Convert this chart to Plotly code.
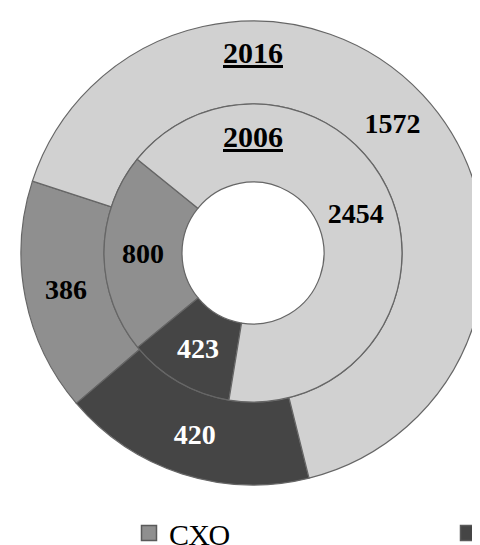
import plotly.graph_objects as go

categories = ["СХО", "К(Ф)Х", "ЛПХ"]
values_2016 = [386, 420, 1572]
values_2006 = [800, 423, 2454]
year_outer = "2016"
year_inner = "2006"

colors = ["#8f8f8f", "#454545", "#d1d1d1"]
text_colors = ["#000000", "#ffffff", "#000000"]

SERIF = "Liberation Serif, Times New Roman, DejaVu Serif, serif"
W, H = 480, 545
cx, cy = 245, 245
r_out, r_mid, r_in = 232, 149, 71


def dom(r):
    return dict(x=[(cx - r) / W, (cx + r) / W],
                y=[(H - cy - r) / H, (H - cy + r) / H])


fig = go.Figure()
fig.add_trace(go.Pie(
    labels=categories, values=values_2016, name=year_outer,
    hole=r_mid / r_out, domain=dom(r_out), sort=False,
    direction="counterclockwise", rotation=229.6,
    marker=dict(colors=colors, line=dict(color="#666666", width=1.2)),
    textinfo="value", textposition="inside", insidetextorientation="horizontal",
    textfont=dict(family=SERIF, size=28, color=text_colors, weight="bold"),
    hoverinfo="label+value", showlegend=False,
))
fig.add_trace(go.Pie(
    labels=categories, values=values_2006, name=year_inner,
    hole=r_in / r_mid, domain=dom(r_mid), sort=False,
    direction="counterclockwise", rotation=230.7,
    marker=dict(colors=colors, line=dict(color="#666666", width=1.2)),
    textinfo="value", textposition="inside", insidetextorientation="horizontal",
    textfont=dict(family=SERIF, size=28, color=text_colors, weight="bold"),
    hoverinfo="label+value", showlegend=False,
))

# legend entries (legend of the original is cropped: first item left, second at right edge)
legend_ids = ["legend", "legend2", "legend2"]
for name, col, lg in zip(categories, colors, legend_ids):
    fig.add_trace(go.Scatter(
        x=[None], y=[None], mode="markers", name=name, legend=lg,
        marker=dict(symbol="square", size=15, color=col, line=dict(color="#5a5a5a", width=1.5)),
        hoverinfo="skip",
    ))

for yr, ypix in ((year_outer, 45), (year_inner, 128)):
    fig.add_annotation(text="<b><u>" + yr + "</u></b>", x=cx / W, y=(H - ypix) / H,
                       xref="paper", yref="paper", showarrow=False,
                       xanchor="center", yanchor="middle",
                       font=dict(family=SERIF, size=30, color="#000"))

legend_style = dict(orientation="h", xanchor="left", yanchor="top",
                    font=dict(family=SERIF, size=30, color="#000"),
                    bgcolor="rgba(0,0,0,0)", itemclick=False, itemdoubleclick=False)

fig.update_layout(
    width=W, height=H,
    margin=dict(l=0, r=0, t=0, b=0, autoexpand=False),
    paper_bgcolor="white", plot_bgcolor="white",
    xaxis=dict(visible=False), yaxis=dict(visible=False),
    legend=dict(x=121 / W, y=(H - 499) / H, **legend_style),
    legend2=dict(x=440 / W, y=(H - 499) / H, **legend_style),
)

fig.write_html("out.html")
